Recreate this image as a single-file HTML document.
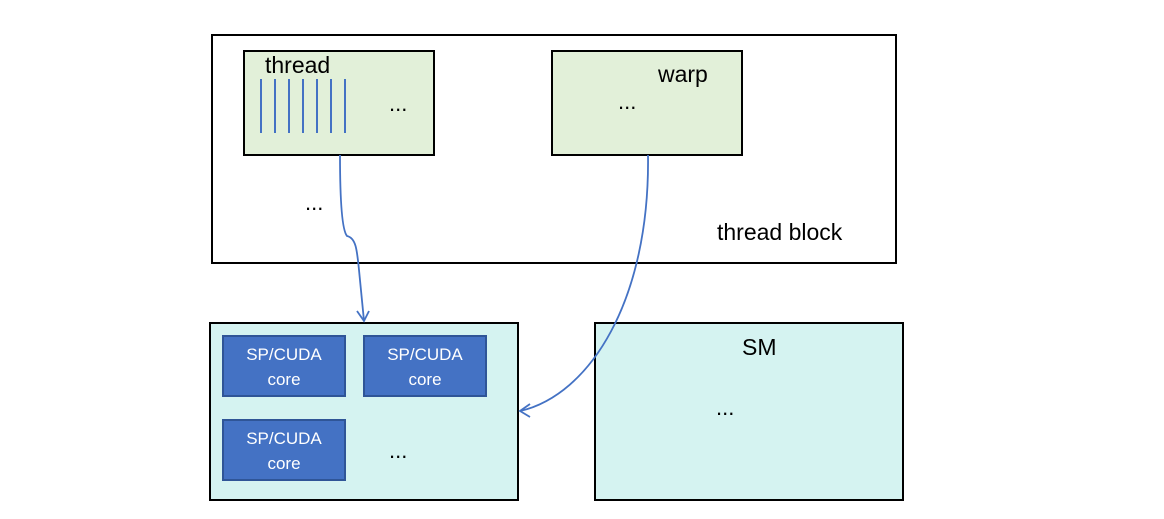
<!DOCTYPE html>
<html><head><meta charset="utf-8"><style>
body{margin:0;width:1164px;height:519px;background:#fff;position:relative;overflow:hidden;font-family:"Liberation Sans",Calibri,sans-serif;}
.b{position:absolute;box-sizing:border-box;border:2px solid #000;}
.g{background:#E2F0D9;}
.c{background:#D5F3F1;}
.core{position:absolute;box-sizing:border-box;background:#4472C4;border:2px solid #2F5597;color:#fff;font-size:17px;text-align:center;line-height:25px;padding-top:5px;}
.t{position:absolute;font-size:22px;color:#000;white-space:nowrap;}
</style></head><body>
<div class="b" style="left:211px;top:34px;width:686px;height:230px"></div>
<div class="b g" style="left:243px;top:50px;width:192px;height:106px"></div>
<div class="b g" style="left:551px;top:50px;width:192px;height:106px"></div>
<div class="b c" style="left:209px;top:322px;width:310px;height:179px"></div>
<div class="b c" style="left:594px;top:322px;width:310px;height:179px"></div>
<div class="core" style="left:222px;top:335px;width:124px;height:62px">SP/CUDA<br>core</div>
<div class="core" style="left:363px;top:335px;width:124px;height:62px">SP/CUDA<br>core</div>
<div class="core" style="left:222px;top:419px;width:124px;height:62px">SP/CUDA<br>core</div>
<div class="t" style="left:265px;top:52px;font-size:23px">thread</div>
<div class="t" style="left:658px;top:61px;font-size:23px">warp</div>
<div class="t" style="left:717px;top:219px;font-size:23px">thread block</div>
<div class="t" style="left:742px;top:334px;font-size:23px">SM</div>
<div class="t" style="left:389px;top:91px">...</div>
<div class="t" style="left:618px;top:89px">...</div>
<div class="t" style="left:305px;top:190px">...</div>
<div class="t" style="left:389px;top:438px">...</div>
<div class="t" style="left:716px;top:395px">...</div>
<svg width="1164" height="519" style="position:absolute;left:0;top:0">
<g stroke="#4472C4" stroke-width="2">
<line x1="261" y1="79" x2="261" y2="133"/><line x1="275" y1="79" x2="275" y2="133"/>
<line x1="289" y1="79" x2="289" y2="133"/><line x1="303" y1="79" x2="303" y2="133"/>
<line x1="317" y1="79" x2="317" y2="133"/><line x1="331" y1="79" x2="331" y2="133"/>
<line x1="345" y1="79" x2="345" y2="133"/>
</g>
<g stroke="#4472C4" stroke-width="1.8" fill="none">
<path d="M340 155 C340 200 342 230 347 236 C356 238 357 250 359 270 L364 321"/>
<path d="M357 311 L364 321 L369 311"/>
<path d="M648 155 C650 300 590 395 520 411"/>
<path d="M530 404 L520 411 L530 417"/>
</g>
</svg>
</body></html>
